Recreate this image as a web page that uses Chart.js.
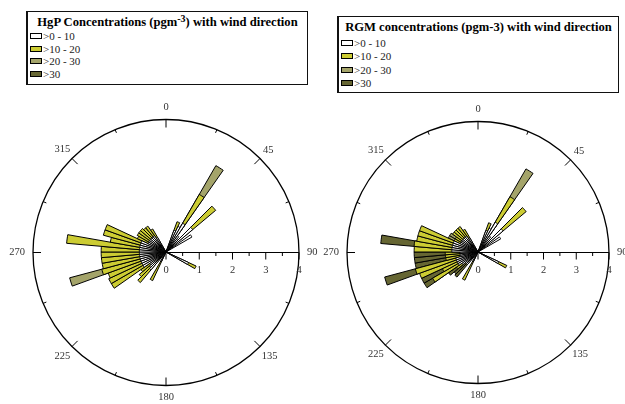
<!DOCTYPE html>
<html>
<head>
<meta charset="utf-8">
<script src="https://cdn.jsdelivr.net/npm/chart.js@4"></script>
<style>
  html, body { margin: 0; padding: 0; background: #fff; }
  body { width: 625px; height: 404px; position: relative; overflow: hidden;
         font-family: "Liberation Serif", "Times New Roman", serif; }
  canvas { position: absolute; top: 0; }
  #roseHgp { left: 0; }
  #roseRgm { left: 312px; }
  .legenda { position: absolute; box-sizing: border-box; background: #fff;
             border: 1px solid #111; border-left-width: 2px; }
  .legenda h3 { margin: 0; font-size: 12.6px; line-height: 15px; font-weight: bold;
                text-align: center; color: #000; }
  .legenda h3 sup { font-size: 10px; line-height: 0; vertical-align: 4px; }
  .legenda ul { list-style: none; margin: 0; padding: 0 0 0 2px; }
  .legenda li { font-size: 11px; color: #222; display: flex; align-items: center; }
  .legenda li span { display: inline-block; width: 10px; height: 4px;
                     border: 1px solid #000; margin-right: 1px; }
  #legHgp { left: 26px; top: 11px; width: 282px; height: 74px; padding-top: 3px; }
  #legHgp li { height: 12.6px; }
  #legRgm { left: 337px; top: 16px; width: 282px; height: 77px; padding-top: 3px; }
  #legRgm h3 { margin-bottom: 1px; }
  #legRgm li { height: 13.5px; }
</style>
</head>
<body>
<canvas id="roseHgp" width="345" height="404"></canvas>
<canvas id="roseRgm" width="313" height="404"></canvas>

<div class="legenda" id="legHgp">
  <h3>HgP Concentrations (pgm<sup>-3</sup>) with wind direction</h3>
  <ul></ul>
</div>
<div class="legenda" id="legRgm">
  <h3>RGM concentrations (pgm-3) with wind direction</h3>
  <ul></ul>
</div>

<script>
// Setores de 5° (início do setor, em graus a partir do norte)
const DIRECOES = [20, 25, 30, 35, 40, 45, 55, 115, 205, 220, 225, 230, 235, 240, 245, 250,
                  255, 260, 265, 270, 275, 280, 285, 290, 295, 300, 305, 310, 315, 320, 325];

// Frequência (%) por classe de concentração — HgP
const HGP_0_10  = [0.70, 0.85, 1.00, 0.60, 0.50, 1.05, 0.90, 0.75, 0.30, 0.70, 0.65, 0.60, 0.80, 0.80, 0.80, 0.80,
                   0.80, 0.80, 0.80, 0.80, 0.80, 0.80, 0.80, 0.80, 0.60, 0.60, 0.60, 0.60, 0.60, 0.60, 0.50];
const HGP_10_20 = [0.27, 0, 1.00, 0, 0, 0.90, 0, 0.25, 0.65, 0.50, 0.40, 0.32, 1.10, 1.10, 1.05, 1.20,
                   1.15, 1.15, 1.15, 1.15, 2.20, 0.90, 1.15, 1.15, 0.35, 0.40, 0.40, 0.40, 0.35, 0.35, 0.30];
const HGP_20_30 = [0, 0, 1.00, 0, 0, 0, 0, 0, 0, 0, 0, 0, 0, 0, 0, 1.00,
                   0, 0, 0, 0, 0, 0, 0, 0, 0, 0, 0, 0, 0, 0, 0];
const HGP_30    = [0, 0, 0, 0, 0, 0, 0, 0, 0, 0, 0, 0, 0, 0, 0, 0,
                   0, 0, 0, 0, 0, 0, 0, 0, 0, 0, 0, 0, 0, 0, 0];

// Frequência (%) por classe de concentração — RGM
const RGM_0_10  = [0.70, 0.80, 1.05, 0.60, 0.50, 1.00, 0.80, 0.70, 0.30, 0.50, 0.50, 0.60, 0.70, 0.70, 0.70, 0.70,
                   0.55, 0.55, 0.55, 0.80, 0.80, 0.80, 0.80, 0.80, 0.60, 0.60, 0.60, 0.60, 0.60, 0.60, 0.50];
const RGM_10_20 = [0.25, 0, 0.90, 0, 0, 0.92, 0, 0.27, 0.65, 0, 0, 0.20, 0.90, 0.50, 1.20, 1.28,
                   0.45, 0.45, 0.45, 1.15, 1.16, 1.10, 1.10, 1.10, 0.20, 0.20, 0.35, 0.35, 0.35, 0.35, 0.30];
const RGM_20_30 = [0, 0, 0.98, 0, 0, 0, 0, 0, 0, 0, 0, 0, 0, 0, 0, 0,
                   0, 0, 0, 0, 0, 0, 0, 0, 0.20, 0.20, 0, 0, 0, 0, 0];
const RGM_30    = [0, 0, 0, 0, 0, 0, 0, 0, 0, 0.50, 0.45, 0.30, 0.30, 0.70, 0, 0.97,
                   0.95, 0.95, 0.95, 0, 1.02, 0, 0, 0, 0, 0, 0, 0, 0, 0, 0];

const CLASSES = [">0 - 10", ">10 - 20", ">20 - 30", ">30"];
const CORES   = ["#ffffff", "#cccc33", "#a4a46a", "#666633"];

const ROTULOS_BUSSOLA = ["0", "45", "90", "135", "180", "225", "270", "315"];
const ROTULOS_RAIO    = ["0", "1", "2", "3", "4"];

const SETORES = Array.from({ length: 72 }, (_, i) => String(i * 5));

// Cada dataset guarda o acumulado até a sua classe (desenhado por baixo das menores)
function montarDatasets(classes) {
  return classes.map((valores, k) => {
    const dados = new Array(SETORES.length).fill(0);
    DIRECOES.forEach((dir, j) => {
      if (!(valores[j] > 0)) return;
      let acumulado = 0;
      for (let c = 0; c <= k; c++) acumulado += classes[c][j];
      dados[dir / 5] = acumulado;
    });
    return {
      label:           CLASSES[k],
      data:            dados,
      backgroundColor: CORES[k],
      borderColor:     "#000",
      borderWidth:     ctx => (ctx.raw > 0 ? 1 : 0),
    };
  });
}

// Círculo, marcas de direção e eixo radial horizontal
const moldura = {
  id: "moldura",
  afterDatasetsDraw(chart) {
    const esc = chart.scales.r;
    const ctx = chart.ctx;
    const cx = esc.xCenter;
    const cy = esc.yCenter + 0.5;
    const raio = esc.getDistanceFromCenterForValue(esc.max);

    ctx.save();
    ctx.strokeStyle = "#000";
    ctx.fillStyle = "#333";

    ctx.lineWidth = 1.3;
    ctx.beginPath();
    ctx.arc(cx, cy, raio, 0, Math.PI * 2);
    ctx.stroke();

    ctx.lineWidth = 1;
    for (let a = 0; a < 360; a += 22.5) {
      const rad = (a - 90) * Math.PI / 180;
      const len = a % 45 === 0 ? 8 : 3.5;
      ctx.beginPath();
      ctx.moveTo(cx + Math.cos(rad) * raio, cy + Math.sin(rad) * raio);
      ctx.lineTo(cx + Math.cos(rad) * (raio - len), cy + Math.sin(rad) * (raio - len));
      ctx.stroke();
    }

    ctx.font = '10.5px "Liberation Serif"';
    ctx.textAlign = "center";
    ctx.textBaseline = "middle";
    ROTULOS_BUSSOLA.forEach(txt => {
      const rad = (Number(txt) - 90) * Math.PI / 180;
      const w = ctx.measureText(txt).width;
      const d = raio + 8 + Math.max(Math.abs(Math.cos(rad)) * w / 2, Math.abs(Math.sin(rad)) * 4);
      ctx.fillText(txt, cx + Math.cos(rad) * d, cy + Math.sin(rad) * d);
    });

    ctx.beginPath();
    ctx.moveTo(cx, cy);
    ctx.lineTo(cx + raio, cy);
    ctx.stroke();
    esc.ticks.forEach(t => {
      const x = cx + esc.getDistanceFromCenterForValue(t.value);
      const inteiro = ROTULOS_RAIO.includes(String(t.value));
      ctx.beginPath();
      ctx.moveTo(x, cy);
      ctx.lineTo(x, cy + (inteiro ? 7 : 3.5));
      ctx.stroke();
      if (inteiro) ctx.fillText(String(t.value), x, cy + 18);
    });
    ctx.restore();
  },
};

function criarRosa(id, classes, padding) {
  return new Chart(document.getElementById(id), {
    type: "polarArea",
    data: { labels: SETORES, datasets: montarDatasets(classes) },
    options: {
      responsive: false,
      animation:  false,
      layout:     { padding },
      plugins: {
        legend:  { display: false },
        tooltip: { enabled: false },
      },
      scales: {
        r: {
          min: 0, max: 4, startAngle: 0,
          ticks:       { display: false, stepSize: 0.5 },
          grid:        { display: false },
          angleLines:  { display: false },
          pointLabels: { display: false },
        },
      },
    },
    plugins: [moldura],
  });
}

// Legenda em HTML a partir dos datasets
function montarLegenda(idLegenda, chart) {
  const ul = document.querySelector(`#${idLegenda} ul`);
  chart.data.datasets.forEach(ds => {
    const li = document.createElement("li");
    const caixa = document.createElement("span");
    caixa.style.background = ds.backgroundColor;
    li.appendChild(caixa);
    li.appendChild(document.createTextNode(ds.label));
    ul.appendChild(li);
  });
}

const rosaHgp = criarRosa("roseHgp", [HGP_0_10, HGP_10_20, HGP_20_30, HGP_30],
                          { left: 33, right: 46, top: 119, bottom: 19 });
const rosaRgm = criarRosa("roseRgm", [RGM_0_10, RGM_10_20, RGM_20_30, RGM_30],
                          { left: 35, right: 16, top: 121, bottom: 21 });
montarLegenda("legHgp", rosaHgp);
montarLegenda("legRgm", rosaRgm);
</script>
</body>
</html>
